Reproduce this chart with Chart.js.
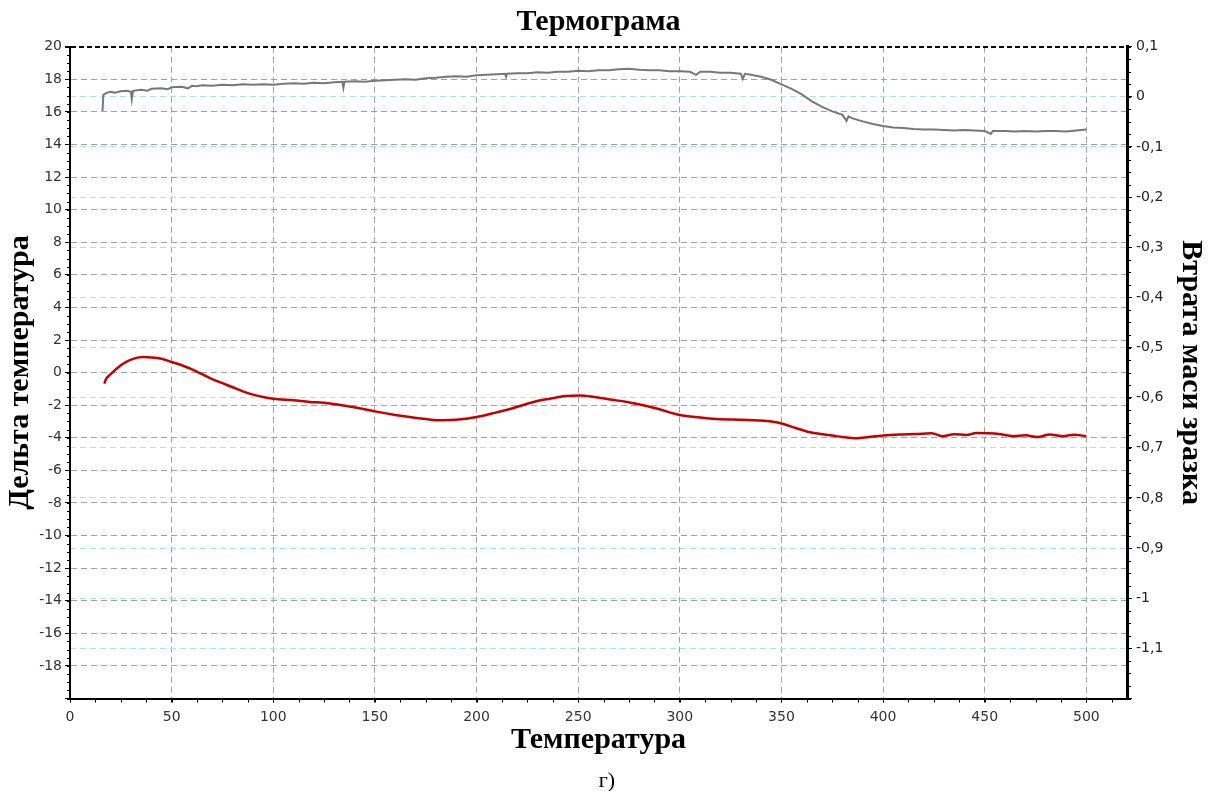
<!DOCTYPE html>
<html>
<head>
<meta charset="utf-8">
<script src="https://cdn.jsdelivr.net/npm/chart.js@4.4.1/dist/chart.umd.min.js"></script>
<style>
html, body { margin: 0; padding: 0; background: #fff; }
#wrap { position: relative; width: 1214px; height: 791px; }
#cap { position: absolute; left: 0; top: 769px; width: 1214px; text-align: center; font: 22px "Liberation Serif", serif; line-height: 22px; color: #000; }
</style>
</head>
<body>
<div id="wrap">
  <canvas id="chart" width="1214" height="791"></canvas>
  <div id="cap">г)</div>
</div>
<script>
// втрата маси (сіра крива, права вісь)
const massTemp = [16, 16.4, 18, 20, 22, 25, 28, 30, 30.4, 31, 35, 38, 40, 45, 48, 50, 55, 58, 60, 62, 65, 70, 75, 80,
  85, 90, 95, 100, 105, 110, 115, 120, 125, 130, 134, 134.5, 135, 140, 145, 150, 155, 160, 165, 170, 175, 180, 185,
  190, 195, 200, 205, 210, 214, 214.5, 215, 220, 225, 230, 235, 240, 245, 250, 255, 260, 265, 270, 275, 280, 285,
  290, 295, 300, 305, 308, 310, 315, 320, 325, 330, 331, 332, 335, 340, 345, 350, 355, 360, 365, 370, 375, 380, 382,
  383, 385, 390, 395, 400, 405, 410, 415, 420, 425, 430, 435, 440, 445, 450, 453, 454, 460, 465, 470, 475, 480,
  485, 490, 495, 500];
const massLoss = [-0.028, 0.004, 0.008, 0.010, 0.008, 0.011, 0.012, 0.010, -0.005, 0.012, 0.014, 0.012, 0.016, 0.017,
  0.015, 0.019, 0.020, 0.017, 0.022, 0.021, 0.023, 0.022, 0.024, 0.023,
  0.025, 0.024, 0.025, 0.024, 0.026, 0.027, 0.026, 0.028, 0.027, 0.029, 0.030, 0.018, 0.030, 0.031, 0.030, 0.032,
  0.033, 0.034, 0.035, 0.034, 0.037, 0.038, 0.040,
  0.041, 0.040, 0.043, 0.044, 0.045, 0.046, 0.040, 0.046, 0.047, 0.047, 0.049, 0.048, 0.050, 0.050, 0.052, 0.051,
  0.053, 0.053, 0.055, 0.056, 0.054, 0.053,
  0.053, 0.051, 0.051, 0.050, 0.044, 0.050, 0.050, 0.048, 0.048, 0.046, 0.036, 0.046, 0.044, 0.040, 0.034, 0.025,
  0.016, 0.005, -0.009, -0.020, -0.029, -0.036, -0.048,
  -0.039, -0.043, -0.049, -0.054, -0.058, -0.061, -0.062, -0.064, -0.065, -0.065, -0.066, -0.067, -0.066, -0.067,
  -0.068, -0.074, -0.068, -0.068, -0.069, -0.068, -0.069, -0.068,
  -0.068, -0.069, -0.067, -0.065];

// дельта температура (червона крива, ліва вісь)
const dtaTemp = [16.9, 17.5, 20, 25, 30, 36, 40, 45, 50, 55, 60, 65, 70, 75, 80, 85, 90, 95, 100, 110, 118, 125, 136,
  145, 150, 160, 167, 175, 183, 190, 200, 208, 216, 228, 236, 244, 251, 258, 265, 274, 282, 290, 300, 310, 318,
  330, 339, 345, 351, 357, 364, 370, 375, 380, 387, 393, 400, 408, 416, 424, 429, 435, 441, 446, 451, 457, 464,
  470, 476, 482, 488, 494, 500];
const dtaDelta = [-0.68, -0.45, -0.1, 0.45, 0.8, 0.95, 0.93, 0.85, 0.65, 0.45, 0.2, -0.1, -0.4, -0.65, -0.9, -1.15,
  -1.35, -1.5, -1.6, -1.7, -1.8, -1.85, -2.05,
  -2.25, -2.38, -2.6, -2.73, -2.85, -2.93, -2.9, -2.73, -2.5, -2.25, -1.8, -1.6, -1.44, -1.4, -1.5, -1.64, -1.8,
  -2.0, -2.25, -2.6, -2.75, -2.84,
  -2.9, -2.94, -3.0, -3.15, -3.4, -3.66, -3.78, -3.86, -3.95, -4.03, -3.95, -3.86, -3.8, -3.77, -3.72, -3.9, -3.78,
  -3.83, -3.7, -3.72, -3.77, -3.9,
  -3.85, -3.95, -3.8, -3.9, -3.82, -3.9];

const tempRange = [0, 520];
const deltaRange = [-20, 20];
const massRange = [-1.2, 0.1];

const serif = '"Liberation Serif", "Times New Roman", serif';
const sans = '"DejaVu Sans", Arial, sans-serif';

const near = (a, b) => Math.abs(a - b) < 1e-6;

const minorTicks = {
  id: 'minorTicks',
  afterDraw(chart) {
    const ctx = chart.ctx, a = chart.chartArea;
    const yl = chart.scales.y, yr = chart.scales.y1, sx = chart.scales.x;
    ctx.save();
    ctx.strokeStyle = '#000';
    ctx.lineWidth = 1;
    ctx.beginPath();
    for (let i = 0; i <= 80; i++) {
      const p = Math.round(yl.getPixelForValue(deltaRange[0] + i * 0.5)) + 0.5;
      ctx.moveTo(a.left - 3, p); ctx.lineTo(a.left, p);
    }
    for (let i = 0; i <= 52; i++) {
      const p = Math.round(yr.getPixelForValue(massRange[0] + i * 0.025)) + 0.5;
      ctx.moveTo(a.right, p); ctx.lineTo(a.right + 4, p);
    }
    for (let i = 0; i * 12.5 <= tempRange[1]; i++) {
      const p = Math.round(sx.getPixelForValue(i * 12.5)) + 0.5;
      ctx.moveTo(p, a.bottom); ctx.lineTo(p, a.bottom + 4);
    }
    ctx.stroke();
    ctx.restore();
  }
};

new Chart(document.getElementById('chart'), {
  type: 'line',
  data: {
    datasets: [
      {
        label: 'Втрата маси зразка',
        data: massTemp.map((t, i) => ({ x: t, y: massLoss[i] })),
        yAxisID: 'y1',
        borderColor: '#777777',
        borderWidth: 2,
        pointRadius: 0,
        tension: 0
      },
      {
        label: 'Дельта температура',
        data: dtaTemp.map((t, i) => ({ x: t, y: dtaDelta[i] })),
        yAxisID: 'y',
        borderColor: '#c40000',
        borderWidth: 2.5,
        pointRadius: 0,
        cubicInterpolationMode: 'monotone'
      }
    ]
  },
  options: {
    responsive: false,
    animation: false,
    layout: { padding: { top: 0, left: 0, right: 0, bottom: 31 } },
    plugins: {
      legend: { display: false },
      tooltip: { enabled: false },
      title: {
        display: true,
        text: 'Термограма',
        fullSize: false,
        color: '#000',
        font: { family: serif, size: 30, weight: 'bold' },
        padding: { top: 4, bottom: 6.7 }
      }
    },
    scales: {
      x: {
        type: 'linear',
        position: 'bottom',
        min: tempRange[0],
        max: tempRange[1],
        afterFit: s => { s.height = 61.5; },
        ticks: { stepSize: 50, includeBounds: false, color: '#333', font: { family: sans, size: 14 }, padding: 6, maxRotation: 0 },
        grid: {
          color: c => (c.tick && near(c.tick.value, 0)) ? 'rgba(0,0,0,0)' : '#a0a0a0',
          lineWidth: 1,
          tickLength: 4,
          tickColor: '#000'
        },
        border: { color: '#000', width: 2, dash: [6, 4] },
        title: { display: true, text: 'Температура', color: '#000', font: { family: serif, size: 30, weight: 'bold' }, padding: { top: 0, bottom: 2 } }
      },
      y: {
        type: 'linear',
        position: 'left',
        min: deltaRange[0],
        max: deltaRange[1],
        afterFit: s => { s.width = 70; },
        ticks: {
          stepSize: 2,
          includeBounds: false,
          color: '#333',
          font: { family: sans, size: 14 },
          padding: 3,
          callback: v => near(v, -20) ? '' : String(Math.round(v))
        },
        grid: {
          color: c => {
            if (!c.tick) return '#a0a0a0';
            if (near(c.tick.value, 20)) return '#000';
            if (near(c.tick.value, -20)) return 'rgba(0,0,0,0)';
            return '#a0a0a0';
          },
          lineWidth: c => (c.tick && near(c.tick.value, 20)) ? 2 : 1,
          tickLength: 5,
          tickColor: '#000'
        },
        border: {
          color: '#000',
          width: 2,
          dash: c => (c.tick && near(c.tick.value, 20)) ? [5, 3] : [6, 4]
        },
        title: { display: true, text: 'Дельта температура', color: '#000', font: { family: serif, size: 30, weight: 'bold' }, padding: { top: 2, bottom: 0 } }
      },
      y1: {
        type: 'linear',
        position: 'right',
        min: massRange[0],
        max: massRange[1],
        afterFit: s => { s.width = 87; },
        ticks: {
          stepSize: 0.1,
          includeBounds: false,
          color: '#222',
          font: { family: sans, size: 14 },
          padding: 4,
          callback: v => {
            const r = Math.round(v * 10) / 10;
            if (near(r, -1.2)) return '';
            return String(r === 0 ? 0 : r).replace('.', ',');
          }
        },
        grid: {
          color: c => (c.tick && (near(c.tick.value, 0.1) || near(c.tick.value, -1.2))) ? 'rgba(0,0,0,0)' : '#a6e6e6',
          lineWidth: 1,
          tickLength: 5,
          tickColor: '#000'
        },
        border: { color: '#000', width: 3, dash: [6, 4] },
        title: { display: true, text: 'Втрата маси зразка', color: '#000', font: { family: serif, size: 30, weight: 'bold' }, padding: { top: 5, bottom: 0 } }
      }
    }
  },
  plugins: [minorTicks]
});
</script>
</body>
</html>
